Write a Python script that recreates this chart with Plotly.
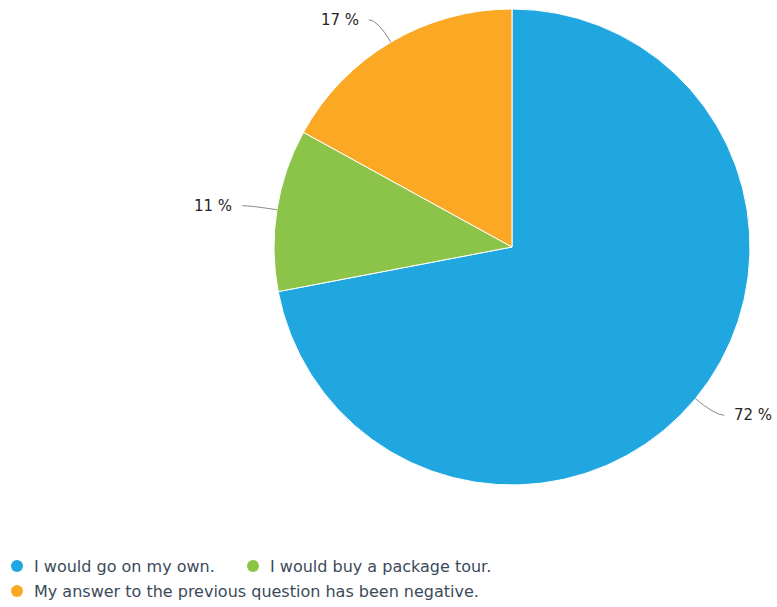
import math
import plotly.graph_objects as go

# Survey answers and their shares (percent)
categories = [
    "I would go on my own.",
    "I would buy a package tour.",
    "My answer to the previous question has been negative.",
]
values = [72, 11, 17]
colors = ["#21a7e0", "#8bc448", "#fba924"]

W, H = 777, 607
CX, CY, R = 512, 247, 238          # pie centre and radius in pixels
ELBOW, TAIL, GAP = 26, 9, 8        # connector geometry
FONT = "DejaVu Sans"

# Legend grid: (left x, middle y) of each entry's marker, in pixels
legend_slots = [(11, 566), (247, 566), (11, 591)]
DOT, TEXT_OFF = 12, 21

def px(x):
    return x / W

def py(y):
    return 1 - y / H

fig = go.Figure()

fig.add_trace(go.Pie(
    labels=categories,
    values=values,
    marker=dict(colors=colors, line=dict(color="#ffffff", width=1)),
    sort=False,
    direction="clockwise",
    rotation=0,
    textinfo="none",
    hoverinfo="label+percent",
    showlegend=False,
    domain=dict(x=[px(CX - R), px(CX + R)], y=[py(CY + R), py(CY - R)]),
))

shapes, annotations = [], []

# Outside labels with crooked connector lines
total = sum(values)
start = 0.0
for v in values:
    mid = (start + v / 2) / total * 2 * math.pi
    start += v
    s, c = math.sin(mid), math.cos(mid)
    x0, y0 = CX + R * s, CY - R * c
    x1, y1 = CX + (R + ELBOW) * s, CY - (R + ELBOW) * c
    side = 1 if s >= 0 else -1
    x2, y2 = x1 + side * TAIL, y1
    shapes.append(dict(
        type="path", xref="paper", yref="paper",
        path=f"M {px(x0)},{py(y0)} Q {px(x1)},{py(y1)} {px(x2)},{py(y2)}",
        line=dict(color="#8a8a8a", width=1),
    ))
    annotations.append(dict(
        xref="paper", yref="paper", x=px(x2 + side * GAP), y=py(y2),
        text=f"{round(v / total * 100)} %", showarrow=False,
        xanchor="left" if side > 0 else "right", yanchor="middle",
        font=dict(family=FONT, size=15, color="#262626"),
    ))

# Legend with round markers
for name, col, (lx, ly) in zip(categories, colors, legend_slots):
    shapes.append(dict(
        type="circle", xref="paper", yref="paper",
        x0=px(lx), x1=px(lx + DOT), y0=py(ly + DOT / 2), y1=py(ly - DOT / 2),
        fillcolor=col, line=dict(width=0),
    ))
    annotations.append(dict(
        xref="paper", yref="paper", x=px(lx + TEXT_OFF), y=py(ly),
        text=name, showarrow=False, xanchor="left", yanchor="middle",
        font=dict(family=FONT, size=16, color="#3b4a5a"),
    ))

fig.update_layout(
    width=W, height=H,
    margin=dict(l=0, r=0, t=0, b=0),
    paper_bgcolor="#ffffff",
    plot_bgcolor="#ffffff",
    showlegend=False,
    shapes=shapes,
    annotations=annotations,
)

fig.write_html("out.html")
